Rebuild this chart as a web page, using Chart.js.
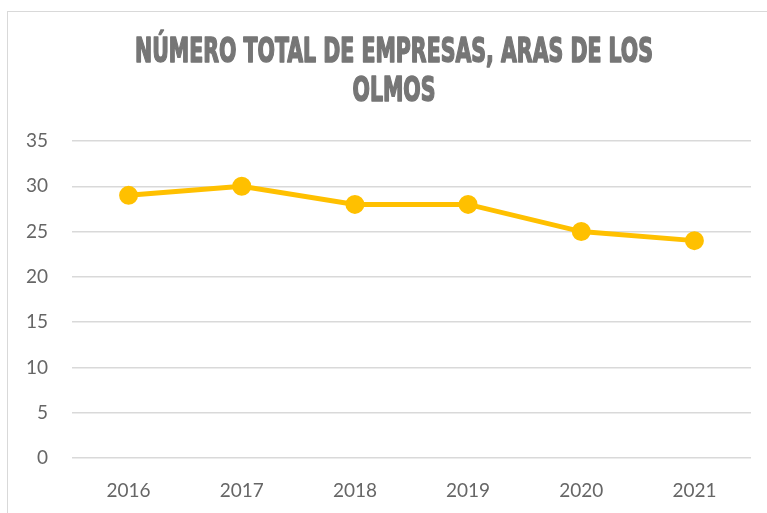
<!DOCTYPE html>
<html>
<head>
<meta charset="utf-8">
<script src="https://cdn.jsdelivr.net/npm/chart.js@4"></script>
<style>
  body { margin: 0; background: #fff; overflow: hidden; }
  #frame { position: absolute; left: 7px; top: 11px; width: 820px; height: 600px; border: 1px solid #d9d9d9; }
  #wrap { position: absolute; left: 0; top: 0; width: 767px; height: 513px; }
</style>
</head>
<body>
<div id="frame"></div>
<div id="wrap"><canvas id="empresasChart" width="767" height="513"></canvas></div>
<script>
// Datos del gráfico
const years = ['2016', '2017', '2018', '2019', '2020', '2021'];
const empresas = [29, 30, 28, 28, 25, 24];
const titleLines = ['NÚMERO TOTAL DE EMPRESAS, ARAS DE LOS', 'OLMOS'];

// Título condensado (la fuente original es muy estrecha)
const condensedTitle = {
    id: 'condensedTitle',
    afterDraw(chart) {
        const c = chart.ctx;
        c.save();
        c.font = 'bold 34px "DejaVu Sans Condensed", "DejaVu Sans"';
        c.fillStyle = '#767676';
        c.strokeStyle = '#767676';
        c.lineWidth = 1.6;
        c.lineJoin = 'round';
        c.textAlign = 'center';
        c.textBaseline = 'alphabetic';
        const sx = 518 / c.measureText(titleLines[0]).width;
        const baselines = [62, 101];
        titleLines.forEach((line, i) => {
            c.save();
            c.translate(394, baselines[i]);
            c.scale(sx, 1);
            c.fillText(line, 0, 0);
            c.strokeText(line, 0, 0);
            c.restore();
        });
        c.restore();
    }
};

const ctx = document.getElementById('empresasChart').getContext('2d');
new Chart(ctx, {
    type: 'line',
    data: {
        labels: years,
        datasets: [{
            label: 'Empresas',
            data: empresas,
            borderColor: '#FFC000',
            backgroundColor: '#FFC000',
            borderWidth: 5,
            pointRadius: 7,
            pointHoverRadius: 7,
            tension: 0
        }]
    },
    options: {
        responsive: false,
        animation: false,
        layout: { padding: { left: 0, right: 16, top: 141, bottom: 0 } },
        scales: {
            x: {
                offset: true,
                grid: { display: false, drawTicks: false },
                border: { display: false },
                ticks: { color: '#666666', font: { family: 'Lato', size: 19 }, padding: 21 },
                afterFit: s => { s.height = 55; }
            },
            y: {
                min: 0,
                max: 35,
                ticks: { stepSize: 5, color: '#666666', font: { family: 'Lato', size: 19 }, padding: 24 },
                grid: { color: '#d9d9d9', lineWidth: 1.5, drawTicks: false },
                border: { display: false },
                afterFit: s => { s.width = 72; }
            }
        },
        plugins: {
            legend: { display: false },
            tooltip: { enabled: false },
            title: { display: false }
        }
    },
    plugins: [condensedTitle]
});
</script>
</body>
</html>
